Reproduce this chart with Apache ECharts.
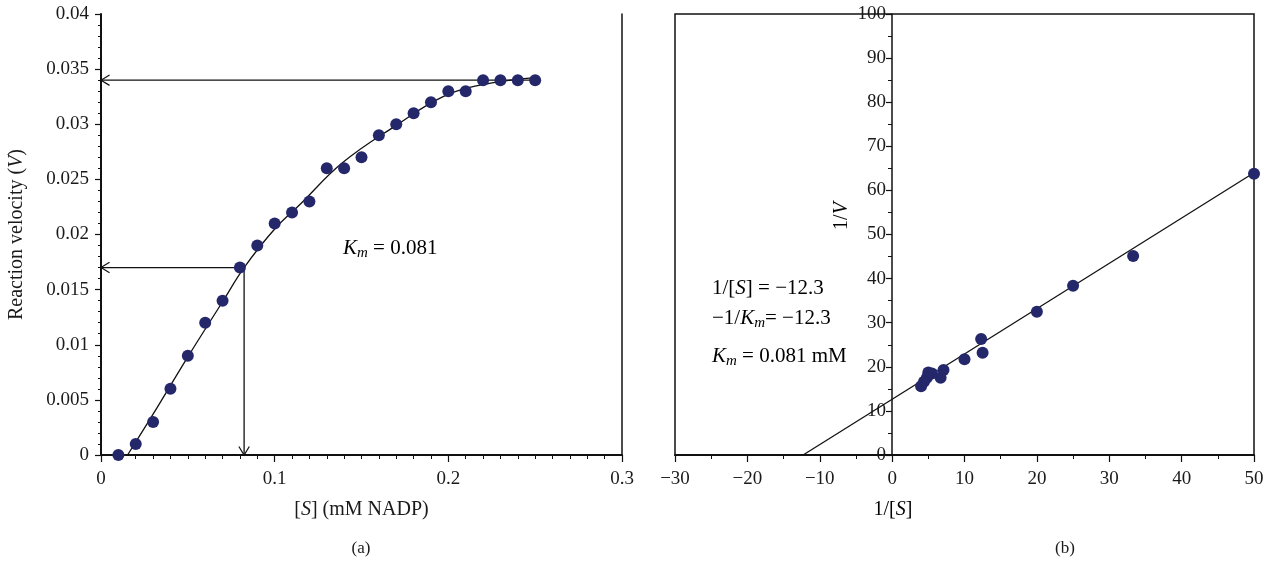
<!DOCTYPE html>
<html><head><meta charset="utf-8">
<script src="https://cdn.jsdelivr.net/npm/echarts@6/dist/echarts.min.js"></script>
<style>html,body{margin:0;padding:0;background:#fff}#c{width:1272px;height:567px}</style>
</head><body><div id="c"></div>
<script>
// ---- Panel (a): Michaelis-Menten ----
const substrateConc = [0.01,0.02,0.03,0.04,0.05,0.06,0.07,0.08,0.09,0.10,0.11,0.12,0.13,0.14,0.15,0.16,0.17,0.18,0.19,0.20,0.21,0.22,0.23,0.24,0.25];
const reactionVelocity = [0,0.001,0.003,0.006,0.009,0.012,0.014,0.017,0.019,0.021,0.022,0.023,0.026,0.026,0.027,0.029,0.030,0.031,0.032,0.033,0.033,0.034,0.034,0.034,0.034];
const fitCurveX = [0.0153,0.03,0.05,0.07,0.0824,0.10,0.1144,0.139,0.17,0.197,0.22,0.2485];
const fitCurveY = [0,0.0037,0.0089,0.0139,0.0170,0.0205,0.0227,0.0265,0.0299,0.0325,0.0336,0.0342];
// arrows: [fromX, fromY, toX, toY]
const guideArrows = [[0.25,0.034,0,0.034],[0.0824,0.017,0,0.017],[0.0824,0.017,0.0824,0]];
const axisA = {xMin:0, xMax:0.3, xStep:0.1, yMin:0, yMax:0.04, yStep:0.005};

// ---- Panel (b): Lineweaver-Burk ----
const invSubstrate = [50,33.3,25,20,12.3,12.5,10,7.1,6.7,5.5,5.0,4.8,4.4,4.0];
const invVelocity  = [63.8,45.1,38.4,32.5,26.3,23.2,21.7,19.3,17.5,18.5,18.7,17.5,16.6,15.6];
const regLineX = [-12.3,50];
const regLineY = [0,64];
const axisB = {xMin:-30, xMax:50, xStep:10, yMin:0, yMax:100, yStep:10};

const FONT = "'Liberation Serif','Times New Roman',serif";
const DOT = '#25276b';

const chart = echarts.init(document.getElementById('c'), null, {renderer:'canvas'});

const tickLabel = {fontFamily:FONT, fontSize:19, color:'#1a1a1a'};
const minus = v => (v < 0 ? '\u2212' + Math.abs(v) : String(v));

function arrowItem(params, api){
  const p1 = api.coord([api.value(0), api.value(1)]);
  const p2 = api.coord([api.value(2), api.value(3)]);
  const ang = Math.atan2(p2[1]-p1[1], p2[0]-p1[0]);
  const L = 10, a = 0.55;
  const h1 = [p2[0]-L*Math.cos(ang-a), p2[1]-L*Math.sin(ang-a)];
  const h2 = [p2[0]-L*Math.cos(ang+a), p2[1]-L*Math.sin(ang+a)];
  return {type:'group', children:[
    {type:'line', shape:{x1:p1[0],y1:p1[1],x2:p2[0],y2:p2[1]}, style:{stroke:'#111',lineWidth:1.3}},
    {type:'polyline', shape:{points:[h1,p2,h2]}, style:{stroke:'#111',fill:null,lineWidth:1.2}}
  ]};
}

const italicRich = {
  i:{fontFamily:FONT, fontStyle:'italic', fontSize:21, color:'#111', lineHeight:24},
  n:{fontFamily:FONT, fontSize:21, color:'#111', lineHeight:24},
  sub:{fontFamily:FONT, fontStyle:'italic', fontSize:15, color:'#111', verticalAlign:'bottom', lineHeight:11}
};
const nameRich = {b:{fontFamily:FONT,fontSize:20,color:'#1a1a1a'}, i:{fontFamily:FONT,fontSize:20,fontStyle:'italic',color:'#1a1a1a'}};

chart.setOption({
  animation:false,
  backgroundColor:'#fff',
  grid:[
    {left:101, right:650, top:14, bottom:112},
    {left:675, right:18, top:14, bottom:112, show:true, borderColor:'#111', borderWidth:1.5, backgroundColor:'transparent'}
  ],
  xAxis:[
    {gridIndex:0, type:'value', min:axisA.xMin, max:axisA.xMax, interval:axisA.xStep,
     axisLine:{lineStyle:{color:'#111', width:2}},
     axisTick:{length:7, lineStyle:{color:'#111', width:1.2}},
     minorTick:{show:true, splitNumber:10, length:4, lineStyle:{color:'#111', width:1}},
     splitLine:{show:false},
     axisLabel:Object.assign({margin:15}, tickLabel),
     name:'{b|[}{i|S}{b|] (mM NADP)}', nameLocation:'middle', nameGap:45,
     nameTextStyle:{rich:nameRich}
    },
    {gridIndex:1, type:'value', min:axisB.xMin, max:axisB.xMax, interval:axisB.xStep,
     axisLine:{lineStyle:{color:'#111', width:2}},
     axisTick:{length:7, lineStyle:{color:'#111', width:1.2}},
     minorTick:{show:true, splitNumber:2, length:4, lineStyle:{color:'#111', width:1}},
     splitLine:{show:false},
     axisLabel:Object.assign({margin:15, formatter:minus}, tickLabel)
    }
  ],
  yAxis:[
    {gridIndex:0, type:'value', min:axisA.yMin, max:axisA.yMax, interval:axisA.yStep,
     axisLine:{show:true, lineStyle:{color:'#111', width:2}},
     axisTick:{show:true, length:6, lineStyle:{color:'#111', width:1.2}},
     minorTick:{show:true, splitNumber:5, length:3, lineStyle:{color:'#111', width:1}},
     splitLine:{show:false},
     axisLabel:Object.assign({margin:12}, tickLabel),
     name:'{b|Reaction velocity (}{i|V}{b|)}', nameLocation:'middle', nameGap:74, nameRotate:90,
     nameTextStyle:{rich:nameRich}
    },
    {gridIndex:0, type:'value', position:'right', min:axisA.yMin, max:axisA.yMax,
     axisLine:{show:true, lineStyle:{color:'#111', width:1.5}},
     axisTick:{show:false}, axisLabel:{show:false}, splitLine:{show:false}
    },
    {gridIndex:1, type:'value', position:'left', offset:-217, min:axisB.yMin, max:axisB.yMax, interval:axisB.yStep,
     axisLine:{show:true, onZero:false, lineStyle:{color:'#111', width:1.5}},
     axisTick:{show:true, length:6, lineStyle:{color:'#111', width:1.2}},
     minorTick:{show:true, splitNumber:2, length:4, lineStyle:{color:'#111', width:1}},
     splitLine:{show:false},
     axisLabel:Object.assign({margin:6}, tickLabel)
    }
  ],
  graphic:[
    {type:'text', left:343, top:238, style:{text:'{i|K}{sub|m}{n| = 0.081}', rich:italicRich}},
    {type:'text', left:712, top:278, style:{text:'{n|1/[}{i|S}{n|] = \u221212.3}', rich:italicRich}},
    {type:'text', left:712, top:308, style:{text:'{n|\u22121/}{i|K}{sub|m}{n|= \u221212.3}', rich:italicRich}},
    {type:'text', left:712, top:346, style:{text:'{i|K}{sub|m}{n| = 0.081 mM}', rich:italicRich}},
    {type:'text', x:842, y:216, rotation:Math.PI/2,
     style:{text:'{b|1/}{i|V}', align:'center', verticalAlign:'middle', rich:nameRich}},
    {type:'text', x:893, y:510,
     style:{text:'{b|1/[}{i|S}{b|]}', align:'center', verticalAlign:'middle', rich:nameRich}},
    {type:'text', x:361, y:549, style:{text:'(a)', align:'center', verticalAlign:'middle', fontFamily:FONT, fontSize:17, fill:'#1a1a1a'}},
    {type:'text', x:1065, y:549, style:{text:'(b)', align:'center', verticalAlign:'middle', fontFamily:FONT, fontSize:17, fill:'#1a1a1a'}}
  ],
  series:[
    {type:'line', xAxisIndex:0, yAxisIndex:0, smooth:0.4, showSymbol:false, symbol:'none',
     data:fitCurveX.map((x,i)=>[x,fitCurveY[i]]), lineStyle:{color:'#111', width:1.3}, z:3},
    {type:'custom', xAxisIndex:0, yAxisIndex:0, renderItem:arrowItem, data:guideArrows,
     encode:{x:[0,2], y:[1,3]}, clip:false, z:2},
    {type:'scatter', xAxisIndex:0, yAxisIndex:0, symbolSize:12,
     data:substrateConc.map((x,i)=>[x,reactionVelocity[i]]), itemStyle:{color:DOT, opacity:1}, z:4},
    {type:'line', xAxisIndex:1, yAxisIndex:2, showSymbol:false, symbol:'none',
     data:regLineX.map((x,i)=>[x,regLineY[i]]), lineStyle:{color:'#111', width:1.3}, z:3},
    {type:'scatter', xAxisIndex:1, yAxisIndex:2, symbolSize:12, clip:false,
     data:invSubstrate.map((x,i)=>[x,invVelocity[i]]), itemStyle:{color:DOT, opacity:1}, z:4}
  ]
});
</script></body></html>
